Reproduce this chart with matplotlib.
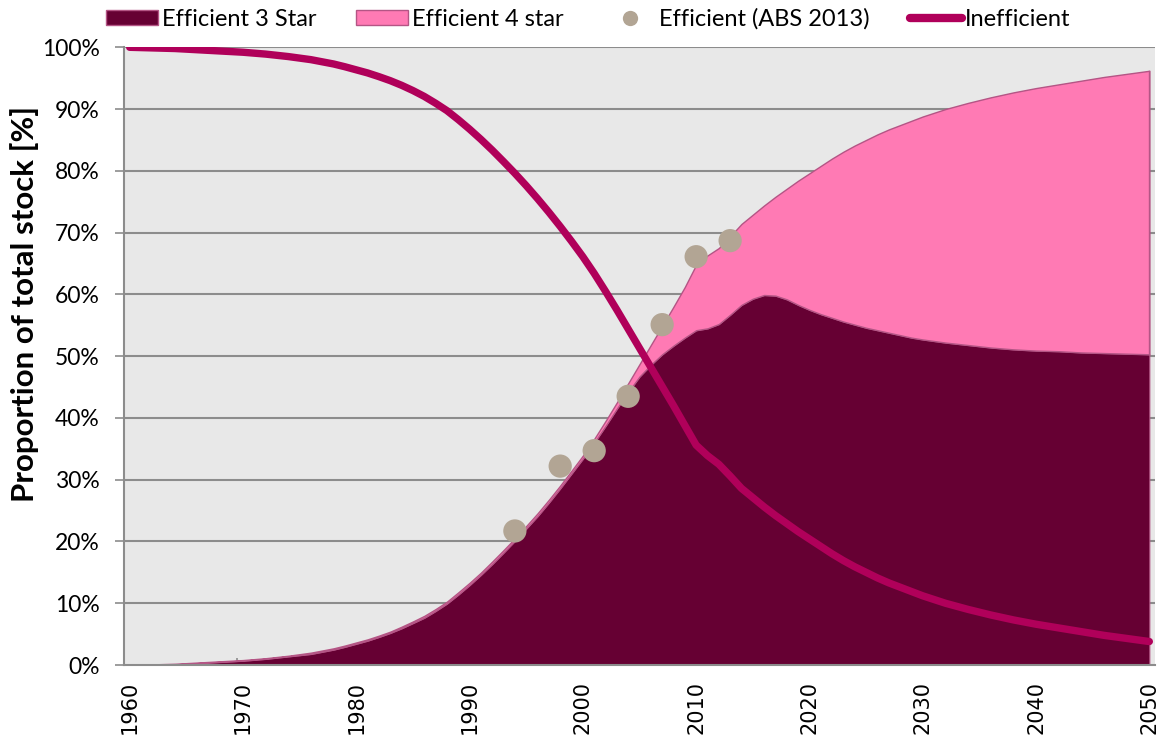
"""
Stock of efficient vs inefficient units, 1960-2050 (stacked area + line).
"""

import matplotlib
matplotlib.use('Agg')
import matplotlib.pyplot as plt
from matplotlib.lines import Line2D
from matplotlib.patches import Patch
import numpy as np

# ---- data (% of total stock) ----
years = [1960, 1962, 1964, 1966, 1968, 1970, 1972, 1974,
         1975, 1976, 1977, 1978, 1979, 1980, 1981, 1982, 1983, 1984,
         1985, 1986, 1987, 1988, 1989, 1990, 1991, 1992, 1993, 1994,
         1995, 1996, 1997, 1998, 1999, 2000, 2001, 2002, 2003, 2004,
         2005, 2006, 2007, 2008, 2009, 2010, 2011, 2012, 2013, 2014,
         2015, 2016, 2017, 2018, 2019, 2020, 2021, 2022, 2023, 2024,
         2025, 2026, 2027, 2028, 2029, 2030, 2032, 2034, 2036, 2038,
         2040, 2042, 2044, 2046, 2048, 2050]

eff_3star = [0.0, 0.05, 0.1, 0.3, 0.5, 0.7, 1.0, 1.4,
             1.6, 1.8, 2.15, 2.5, 2.95, 3.45, 3.95, 4.55, 5.2, 5.95,
             6.8, 7.65, 8.75, 9.95, 11.4, 12.95, 14.6, 16.35, 18.2, 20.1,
             22.1, 24.1, 26.3, 28.6, 31.0, 33.4, 36.0, 38.7, 41.5, 44.2,
             46.7, 48.6, 50.3, 51.7, 53.0, 54.2, 54.5, 55.2, 56.7, 58.3,
             59.3, 59.9, 59.8, 59.2, 58.3, 57.5, 56.8, 56.2, 55.6, 55.1,
             54.6, 54.2, 53.8, 53.4, 53.0, 52.7, 52.2, 51.8, 51.4, 51.1,
             50.9, 50.8, 50.6, 50.5, 50.4, 50.3]

eff_4star = [0.0, 0.05, 0.1, 0.1, 0.1, 0.1, 0.1, 0.1,
             0.15, 0.2, 0.2, 0.2, 0.2, 0.2, 0.2, 0.2, 0.2, 0.25,
             0.25, 0.3, 0.3, 0.3, 0.35, 0.35, 0.35, 0.4, 0.4, 0.4,
             0.4, 0.45, 0.45, 0.45, 0.45, 0.5, 0.6, 0.8, 1.0, 1.4,
             2.0, 3.2, 4.6, 6.3, 8.2, 10.6, 11.8, 12.3, 12.7, 13.1,
             13.6, 14.5, 16.0, 17.9, 20.1, 22.1, 24.0, 25.8, 27.5, 29.0,
             30.4, 31.7, 32.9, 34.0, 35.1, 36.1, 37.8, 39.2, 40.5, 41.6,
             42.5, 43.2, 44.0, 44.7, 45.3, 45.9]

inefficient = [100.0, 99.9, 99.8, 99.6, 99.4, 99.2, 98.9, 98.5,
               98.25, 98.0, 97.65, 97.3, 96.85, 96.35, 95.85, 95.25, 94.6, 93.85,
               93.0, 92.05, 90.95, 89.75, 88.3, 86.75, 85.1, 83.35, 81.5, 79.6,
               77.6, 75.5, 73.3, 71.0, 68.6, 66.1, 63.4, 60.5, 57.5, 54.4,
               51.3, 48.2, 45.1, 42.0, 38.8, 35.6, 33.9, 32.5, 30.6, 28.6,
               27.1, 25.6, 24.2, 22.9, 21.6, 20.4, 19.2, 18.0, 16.9, 15.9,
               15.0, 14.1, 13.3, 12.6, 11.9, 11.2, 10.0, 9.0, 8.1, 7.3,
               6.6, 6.0, 5.4, 4.8, 4.3, 3.8]

abs_years = [1994, 1998, 2001, 2004, 2007, 2010, 2013]
abs_values = [21.7, 32.2, 34.7, 43.5, 55.1, 66.1, 68.7]

tick_years = list(range(1960, 2051, 10))
pct_ticks = list(range(0, 101, 10))

# ---- colours ----
C_3STAR = '#660033'
C_4STAR = '#ff7ab4'
C_EDGE = '#b45585'
C_ABS = '#b2a594'
C_INEFF = '#b0005a'
C_BG = '#e8e8e8'
C_GRID = '#8c8c8c'

FONT = 'Lato'

x = np.array(years)
s3 = np.array(eff_3star) / 100
s4 = np.array(eff_4star) / 100

fig = plt.figure(figsize=(11.63, 7.35), dpi=100)
ax = fig.add_axes([124 / 1163, 1 - 665 / 735, 1031 / 1163, (665 - 47.3) / 735])
ax.set_facecolor(C_BG)

ax.fill_between(x, 0, s3, facecolor=C_3STAR, edgecolor=C_EDGE,
                linewidth=0.8, zorder=2)
ax.fill_between(x, s3, s3 + s4, facecolor=C_4STAR, edgecolor=C_EDGE,
                linewidth=1.0, zorder=2)
ax.plot([x[-1], x[-1]], [s3[-1], s3[-1] + s4[-1]], color=C_EDGE, lw=1.0,
        zorder=2)
ax.scatter(abs_years, np.array(abs_values) / 100, s=280, color=C_ABS,
           edgecolors='none', zorder=3)
ax.plot(x, np.array(inefficient) / 100, color=C_INEFF, lw=5.3,
        solid_capstyle='round', solid_joinstyle='round', zorder=4)

ax.set_xlim(1959.5, 2050.5)
ax.set_ylim(0, 1)

# gridlines
for v in pct_ticks[1:]:
    ax.axhline(v / 100, color=C_GRID, lw=1.5, zorder=1)

ax.set_yticks([v / 100 for v in pct_ticks])
ax.set_yticklabels([f'{v}%' for v in pct_ticks], fontsize=16.5, family=FONT)
ax.tick_params(axis='y', direction='out', length=6.5, width=1.2,
               color=C_GRID, pad=11)

ax.set_xticks(tick_years)
ax.set_xticklabels([str(y) for y in tick_years], rotation=90,
                   fontsize=15, family='DejaVu Sans')
ax.tick_params(axis='x', length=0, pad=11.5)
ax.set_xticks([y - 0.5 for y in tick_years], minor=True)
ax.tick_params(axis='x', which='minor', direction='in', length=5,
               width=1.2, color=C_GRID)

for side in ('top', 'right'):
    ax.spines[side].set_visible(False)
for side in ('left', 'bottom'):
    ax.spines[side].set_color(C_GRID)
    ax.spines[side].set_linewidth(1.5)
    ax.spines[side].set_zorder(5)

ax.set_ylabel('Proportion of total stock [%]', fontsize=22.5,
              family=FONT, fontweight='bold')
ax.yaxis.set_label_coords(-0.082, 0.585)

handles = [
    Patch(facecolor=C_3STAR, edgecolor=C_EDGE, linewidth=1.0),
    Patch(facecolor=C_4STAR, edgecolor=C_EDGE, linewidth=1.0),
    Line2D([], [], marker='o', linestyle='none', markersize=11,
           markerfacecolor=C_ABS, markeredgecolor='none'),
    Line2D([], [], color=C_INEFF, lw=6, solid_capstyle='round'),
]
labels = ['Efficient 3 Star', 'Efficient 4 star', 'Efficient (ABS 2013)',
          'Inefficient']
fig.legend(handles, labels, loc='center', bbox_to_anchor=(0.506, 0.974),
           ncol=4, frameon=False, prop={'family': FONT, 'size': 17},
           handlelength=2.2, handleheight=0.6, handletextpad=0.15,
           columnspacing=1.7, borderaxespad=0)

fig.savefig('out.png', dpi=100)
plt.close(fig)
